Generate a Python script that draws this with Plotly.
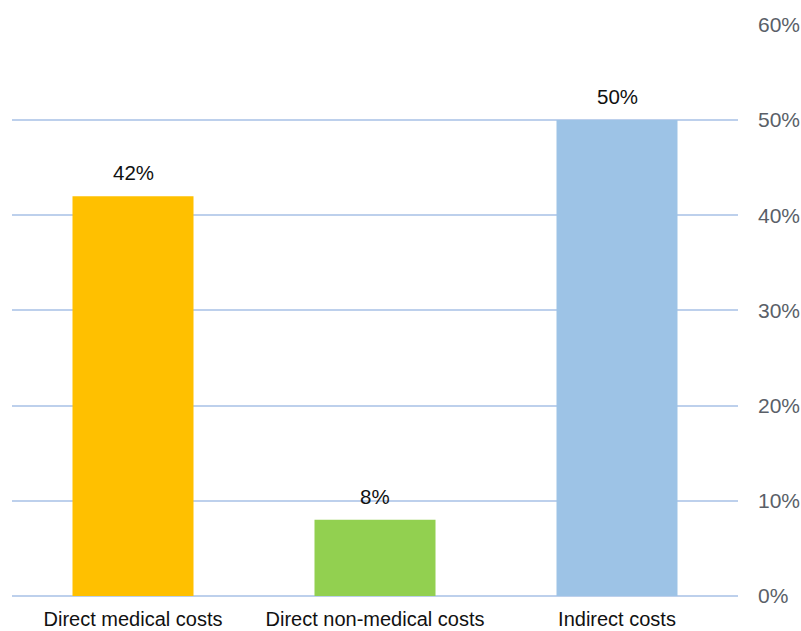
import plotly.graph_objects as go

categories = ["Direct medical costs", "Direct non-medical costs", "Indirect costs"]
values = [42, 8, 50]
labels = ["42%", "8%", "50%"]
colors = ["#FFC000", "#92D050", "#9DC3E6"]
tick_vals = [0, 10, 20, 30, 40, 50, 60]
tick_text = ["0%", "10%", "20%", "30%", "40%", "50%", "60%"]

fig = go.Figure()
fig.add_trace(go.Bar(x=categories, y=values, marker=dict(color=colors, line=dict(width=0)),
                     width=0.5, hoverinfo="skip"))
for c, v, t in zip(categories, values, labels):
    fig.add_annotation(x=c, y=v, text=t, showarrow=False, yanchor="bottom", yshift=10,
                       font=dict(family="Liberation Sans, Arial", size=20.5, color="#111111"))

fig.update_layout(
    width=801, height=631,
    margin=dict(l=12, r=63, t=24, b=35, autoexpand=False),
    paper_bgcolor="white", plot_bgcolor="white",
    showlegend=False,
    bargap=0.5,
    xaxis=dict(showgrid=False, showline=False, ticks="", automargin=False,
               tickfont=dict(family="Liberation Sans, Arial", size=20, color="#111111"),
               ticklabelstandoff=9),
    yaxis=dict(side="right", range=[0, 60.08], tickvals=tick_vals, ticktext=tick_text,
               automargin=False,
               showgrid=True, gridcolor="#BDD0EC", gridwidth=1.5,
               zeroline=True, zerolinecolor="#BDD0EC", zerolinewidth=1.5,
               showline=False, ticks="", ticklabelstandoff=19,
               tickfont=dict(family="Liberation Sans, Arial", size=21, color="#5A5F68")),
)
fig.write_html("out.html")
